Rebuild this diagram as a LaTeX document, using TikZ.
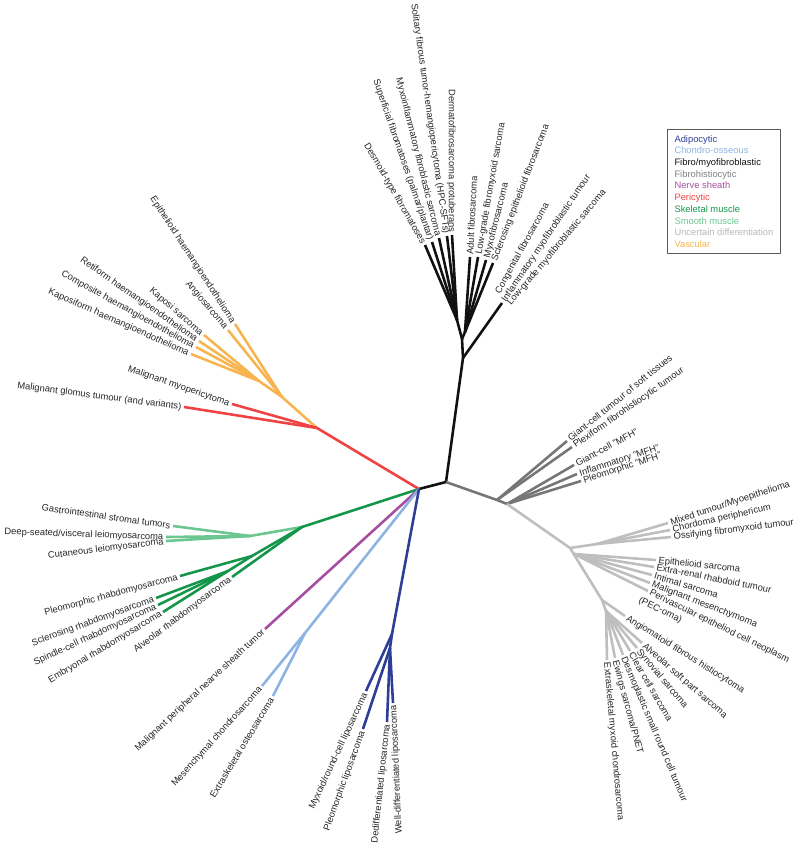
\documentclass[tikz,border=0pt]{standalone}
\usepackage{fontspec}
\setmainfont{Liberation Sans}
\usetikzlibrary{calc}
\definecolor{adipo}{HTML}{2E3E96}
\definecolor{chondro}{HTML}{8DB3E2}
\definecolor{fibro}{HTML}{111111}
\definecolor{fhist}{HTML}{767676}
\definecolor{nerve}{HTML}{A64EA0}
\definecolor{peri}{HTML}{EF4343}
\definecolor{skel}{HTML}{14964A}
\definecolor{smoothm}{HTML}{6CC690}
\definecolor{uncert}{HTML}{BEBEBE}
\definecolor{vasc}{HTML}{F7B44F}

\begin{document}
\begin{tikzpicture}[x=0.03cm,y=-0.03cm,line width=2.2pt,line join=round,
  lab/.style={font=\fontsize{8}{9.6}\selectfont,text=black!85,inner sep=1.2pt},
  labR/.style={lab,anchor=mid west},
  labL/.style={lab,anchor=mid east}]
  \useasboundingbox (0,0) rectangle (800,848);

  % hubs
  \coordinate (hubA) at (446,482);
  \coordinate (hubB) at (419,489);

  % fibro/myofibroblastic
  \coordinate (fC) at (463,358);
  \coordinate (fD) at (462,339);
  \coordinate (fL) at (457,320);
  \coordinate (fR) at (465,332);
  \node[labL,rotate=-60] (desm) at (425,245) {Desmoid-type fibromatoses};
  \node[labL,rotate=-71] (supf) at (432,242) {Superficial fibromatoses (palmar/plantar)};
  \node[labL,rotate=-76] (mifs) at (439,238) {Myxoinflammatory fibroblastic sarcoma};
  \node[labL,rotate=-82] (sft) at (447,236) {Solitary fibrous tumor-hemangiopericytoma (HPC-SFTs)};
  \node[labL,rotate=-90] (dfsp) at (452,235) {Dermatofibrosarcoma protuberans};
  \node[labR,rotate=87] (afs) at (470,257) {Adult fibrosarcoma};
  \node[labR,rotate=80] (lgfms) at (478,257) {Low-grade fibromyxoid sarcoma};
  \node[labR,rotate=76] (mfs) at (486,260) {Myxofibrosarcoma};
  \node[labR,rotate=69] (sef) at (493,263) {Sclerosing epithelioid fibrosarcoma};
  \node[labR,rotate=61] (cfs) at (496,295) {Congenital fibrosarcoma};
  \node[labR,rotate=56] (imt) at (502,303) {Inflammatory myofibroblastic tumour};
  \node[labR,rotate=50] (lgms) at (507,306) {Low-grade myofibroblastic sarcoma};

  % fibrohistiocytic
  \coordinate (gA) at (497,500);
  \coordinate (gB) at (507,504);
  \node[labR,rotate=39] (gcts) at (567,441) {Giant-cell tumour of soft tissues};
  \node[labR,rotate=35] (pfht) at (572,447) {Plexiform fibrohistiocytic tumour};
  \node[labR,rotate=28] (gcmfh) at (574,465) {Giant-cell "MFH"};
  \node[labR,rotate=18] (infmfh) at (577,474) {Inflammatory "MFH"};
  \node[labR,rotate=18] (plmfh) at (581,481) {Pleomorphic "MFH"};

  % uncertain differentiation
  \coordinate (uA) at (570,548);
  \coordinate (uB) at (597,544);
  \coordinate (uM) at (574,554);
  \coordinate (uC) at (602,600);
  \coordinate (uD) at (606,611);
  \node[labR,rotate=18] (mtm) at (668,523) {Mixed tumour/Myoepithelioma};
  \node[labR,rotate=13] (chp) at (670,530) {Chordoma periphericum};
  \node[labR,rotate=7] (ofmt) at (671,537) {Ossifying fibromyxoid tumour};
  \node[labR,rotate=-6] (eps) at (656,560) {Epithelioid sarcoma};
  \node[labR,rotate=-11] (errt) at (654,567) {Extra-renal rhabdoid tumour};
  \node[labR,rotate=-17] (ints) at (652,575) {Intimal sarcoma};
  \node[labR,rotate=-21] (mmes) at (650,583) {Malignant mesenchymoma};
  \node[labR,rotate=-26] (pec) at (648,591)
    {\begin{tabular}[t]{@{}l@{}}Perivascular epitheliod cell neoplasm\\\hspace*{-2mm}(PEC-oma)\end{tabular}};
  \node[labR,rotate=-32] (afh) at (625,616) {Angiomatoid fibrous histiocytoma};
  \node[labR,rotate=-41] (asps) at (642,643) {Alveolar soft part sarcoma};
  \node[labR,rotate=-50] (syn) at (637,648) {Synovial sarcoma};
  \node[labR,rotate=-60] (ccs) at (630,651) {Clear cell sarcoma};
  \node[labR,rotate=-67] (dsrct) at (623,655) {Desmoplastic small round cell tumour};
  \node[labR,rotate=-75] (ews) at (615,658) {Ewings sarcoma/PNET};
  \node[labR,rotate=-85] (emc) at (607,660) {Extraskeletal myxoid chondrosarcoma};

  % pericytic and vascular
  \coordinate (pA) at (317,428);
  \coordinate (vA) at (282,397);
  \coordinate (vB) at (259,381);
  \node[labL,rotate=-19] (mmp) at (232,404) {Malignant myopericytoma};
  \node[labL,rotate=-7.5] (mgt) at (184,407) {Malignant glomus tumour (and variants)};
  \node[labL,rotate=-57] (ehe) at (235,324) {Epithelioid haemangioendothelioma};
  \node[labL,rotate=-50] (angs) at (228,330) {Angiosarcoma};
  \node[labL,rotate=-41] (kap) at (204,335) {Kaposi sarcoma};
  \node[labL,rotate=-35] (rhe) at (199,341) {Retiform haemangioendothelioma};
  \node[labL,rotate=-29] (che) at (196,347) {Composite haemangioendothelioma};
  \node[labL,rotate=-24] (khe) at (191,354) {Kaposiform haemangioendothelioma};

  % smooth and skeletal muscle
  \coordinate (sA) at (302,527);
  \coordinate (sB) at (250,536);
  \coordinate (sC) at (252,556);
  \coordinate (sD) at (228,571);
  \node[labL,rotate=-8] (gist) at (173,526) {Gastrointestinal stromal tumors};
  \node[labL,rotate=-2] (dvlms) at (166,537) {Deep-seated/visceral leiomyosarcoma};
  \node[labL,rotate=7] (clms) at (166,541) {Cutaneous leiomyosarcoma};
  \node[labL,rotate=15] (prms) at (180,576) {Pleomorphic rhabdomyosarcoma};
  \node[labL,rotate=20] (srms) at (156,598) {Sclerosing rhabdomyosarcoma};
  \node[labL,rotate=25] (scrms) at (158,605) {Spindle-cell rhabdomyosarcoma};
  \node[labL,rotate=31] (erms) at (163,612) {Embryonal rhabdomyosarcoma};
  \node[labL,rotate=37] (arms) at (232,577) {Alveolar rhabdomyosarcoma};

  % nerve sheath, chondro-osseous, adipocytic
  \node[labL,rotate=43] (mpnst) at (265,629) {Malignant peripheral nearve sheath tumor};
  \coordinate (cA) at (305,633);
  \node[labL,rotate=48] (mcs) at (262,686) {Mesenchymal chondrosarcoma};
  \node[labL,rotate=59] (eos) at (273,696) {Extraskeletal osteosarcoma};
  \coordinate (aA) at (392,634);
  \coordinate (aB) at (390,648);
  \node[labL,rotate=65] (mrcl) at (366,691) {Myxoid/round-cell liposarcoma};
  \node[labL,rotate=70] (plps) at (363,729) {Pleomorphic liposarcoma};
  \node[labL,rotate=84] (ddls) at (387,722) {Dedifferentiated liposarcoma};
  \node[labL,rotate=92.5] (wdls) at (393,703) {Well-differentiated liposarcoma};

  % branches
  \draw[fibro] (hubB) -- (hubA) -- (fC) -- (fD) -- (fL);
  \draw[fibro] (fD) -- (fR);
  \draw[fibro] (fL) -- (desm.mid east);
  \draw[fibro] (fL) -- (supf.mid east);
  \draw[fibro] (fL) -- (mifs.mid east);
  \draw[fibro] (fL) -- (sft.mid east);
  \draw[fibro] (fL) -- (dfsp.mid east);
  \draw[fibro] (fR) -- (afs.mid west);
  \draw[fibro] (fR) -- (lgfms.mid west);
  \draw[fibro] (fR) -- (mfs.mid west);
  \draw[fibro] (fR) -- (sef.mid west);
  \draw[fibro] (fC) -- (imt.mid west);

  \draw[fhist] (hubA) -- (gA) -- (gB);
  \draw[fhist] (gA) -- (gcts.mid west);
  \draw[fhist] (gA) -- (pfht.mid west);
  \draw[fhist] (gB) -- (gcmfh.mid west);
  \draw[fhist] (gB) -- (infmfh.mid west);
  \draw[fhist] (gB) -- (plmfh.mid west);

  \draw[uncert] (gB) -- (uA) -- (uC) -- (uD);
  \draw[uncert] (uA) -- (uB);
  \draw[uncert] (uB) -- (mtm.mid west);
  \draw[uncert] (uB) -- (chp.mid west);
  \draw[uncert] (uB) -- (ofmt.mid west);
  \draw[uncert] (uM) -- (eps.mid west);
  \draw[uncert] (uM) -- (errt.mid west);
  \draw[uncert] (uM) -- (ints.mid west);
  \draw[uncert] (uM) -- (mmes.mid west);
  \draw[uncert] (uM) -- (pec.mid west);
  \draw[uncert] (uC) -- (afh.mid west);
  \draw[uncert] (uD) -- (asps.mid west);
  \draw[uncert] (uD) -- (syn.mid west);
  \draw[uncert] (uD) -- (ccs.mid west);
  \draw[uncert] (uD) -- (dsrct.mid west);
  \draw[uncert] (uD) -- (ews.mid west);
  \draw[uncert] (uD) -- (emc.mid west);

  \draw[vasc] (pA) -- (vA) -- (vB);
  \draw[vasc] (vA) -- (ehe.mid east);
  \draw[vasc] (vA) -- (angs.mid east);
  \draw[vasc] (vB) -- (kap.mid east);
  \draw[vasc] (vB) -- (rhe.mid east);
  \draw[vasc] (vB) -- (che.mid east);
  \draw[vasc] (vB) -- (khe.mid east);
  \draw[peri] (hubB) -- (pA);
  \draw[peri] (pA) -- (mmp.mid east);
  \draw[peri] (pA) -- (mgt.mid east);

  \draw[smoothm] (sA) -- (sB);
  \draw[smoothm] (sB) -- (gist.mid east);
  \draw[smoothm] (sB) -- (dvlms.mid east);
  \draw[smoothm] (sB) -- (clms.mid east);
  \draw[skel] (hubB) -- (sA) -- (sC) -- (sD);
  \draw[skel] (sC) -- (prms.mid east);
  \draw[skel] (sD) -- (srms.mid east);
  \draw[skel] (sD) -- (scrms.mid east);
  \draw[skel] (sD) -- (erms.mid east);
  \draw[skel] (sA) -- (arms.mid east);

  \draw[nerve] (hubB) -- (mpnst.mid east);
  \draw[chondro] (hubB) -- (cA);
  \draw[chondro] (cA) -- (mcs.mid east);
  \draw[chondro] (cA) -- (eos.mid east);
  \draw[adipo] (hubB) -- (aA) -- (aB);
  \draw[adipo] (aA) -- (mrcl.mid east);
  \draw[adipo] (aB) -- (plps.mid east);
  \draw[adipo] (aB) -- (ddls.mid east);
  \draw[adipo] (aB) -- (wdls.mid east);

  % legend
  \node[draw=black!65,line width=0.8pt,anchor=north west,align=left,
        font=\fontsize{8}{10}\selectfont,inner xsep=6pt,inner ysep=5pt] (legend) at (667,129)
    {\textcolor{adipo}{Adipocytic}\\
     \textcolor{chondro}{Chondro-osseous}\\
     \textcolor{fibro}{Fibro/myofibroblastic}\\
     \textcolor{black!50}{Fibrohistiocytic}\\
     \textcolor{nerve}{Nerve sheath}\\
     \textcolor{peri}{Pericytic}\\
     \textcolor{skel}{Skeletal muscle}\\
     \textcolor{smoothm}{Smooth muscle}\\
     \textcolor{black!28}{Uncertain differentiation}\\
     \textcolor{vasc}{Vascular}};
\end{tikzpicture}
\end{document}
